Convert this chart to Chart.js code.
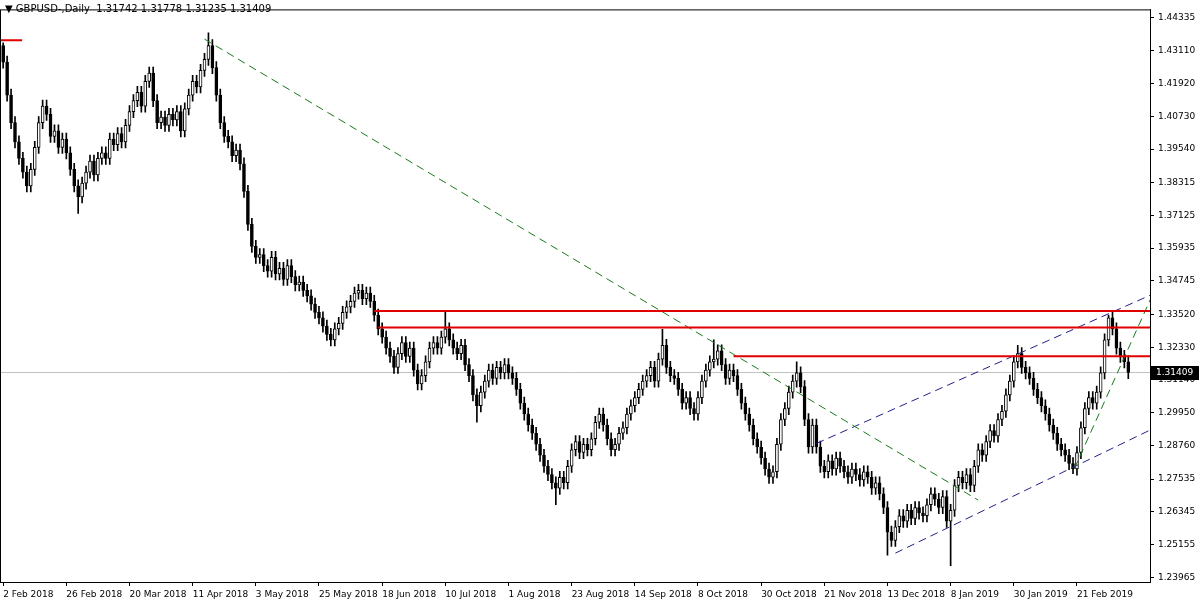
<!DOCTYPE html>
<html>
<head>
<meta charset="utf-8">
<script src="https://cdn.jsdelivr.net/npm/chart.js@4.4.0/dist/chart.umd.min.js"></script>
<style>
  html, body { margin: 0; padding: 0; background: #fff; }
  #wrap { width: 1200px; height: 600px; position: relative; }
  #title { position: absolute; left: 5px; top: 3px; font: 10px "DejaVu Sans", sans-serif; color: #000; }
</style>
</head>
<body>
<div id="wrap">
  <canvas id="c" width="1200" height="600"></canvas>
  <div id="title">▼ GBPUSD-,Daily&nbsp; 1.31742 1.31778 1.31235 1.31409</div>
</div>
<script>
// daily closes, 2 Feb 2018 onwards
const closes = [
  1.4270,1.4150,1.4050,1.3980,1.3920,1.3870,1.3820,1.3880,1.3960,1.4050,
  1.4110,1.4080,1.4000,1.4020,1.3960,1.3990,1.3940,1.3880,1.3820,1.3780,
  1.3830,1.3870,1.3910,1.3860,1.3920,1.3940,1.3920,1.3990,1.3970,1.4010,
  1.3980,1.4040,1.4090,1.4130,1.4160,1.4110,1.4200,1.4230,1.4130,1.4050,
  1.4070,1.4040,1.4080,1.4060,1.4090,1.4020,1.4100,1.4150,1.4200,1.4180,
  1.4240,1.4280,1.4330,1.4250,1.4150,1.4050,1.4000,1.3980,1.3930,1.3950,
  1.3900,1.3800,1.3680,1.3600,1.3560,1.3570,1.3530,1.3510,1.3560,1.3500,
  1.3520,1.3480,1.3530,1.3490,1.3460,1.3470,1.3440,1.3420,1.3390,1.3360,
  1.3340,1.3310,1.3280,1.3260,1.3300,1.3320,1.3360,1.3380,1.3400,1.3430,
  1.3440,1.3410,1.3430,1.3400,1.3350,1.3300,1.3270,1.3230,1.3200,1.3160,
  1.3210,1.3250,1.3200,1.3230,1.3150,1.3100,1.3130,1.3180,1.3230,1.3250,
  1.3230,1.3270,1.3300,1.3260,1.3230,1.3210,1.3240,1.3170,1.3130,1.3060,
  1.3020,1.3070,1.3110,1.3150,1.3120,1.3160,1.3140,1.3170,1.3140,1.3120,
  1.3080,1.3030,1.2990,1.2950,1.2920,1.2880,1.2840,1.2800,1.2770,1.2740,
  1.2720,1.2760,1.2740,1.2800,1.2860,1.2890,1.2850,1.2880,1.2860,1.2900,
  1.2960,1.2990,1.2950,1.2900,1.2860,1.2880,1.2920,1.2940,1.2990,1.3020,
  1.3050,1.3080,1.3110,1.3130,1.3160,1.3110,1.3190,1.3240,1.3160,1.3130,
  1.3120,1.3080,1.3030,1.3050,1.3010,1.2990,1.3050,1.3110,1.3150,1.3180,
  1.3190,1.3220,1.3170,1.3120,1.3150,1.3130,1.3080,1.3030,1.2990,1.2950,
  1.2900,1.2870,1.2830,1.2790,1.2760,1.2780,1.2880,1.2970,1.3010,1.3070,
  1.3110,1.3140,1.3090,1.2970,1.2870,1.2950,1.2870,1.2800,1.2780,1.2820,
  1.2790,1.2830,1.2800,1.2780,1.2760,1.2790,1.2770,1.2750,1.2780,1.2760,
  1.2720,1.2740,1.2700,1.2650,1.2560,1.2530,1.2580,1.2620,1.2600,1.2640,
  1.2610,1.2650,1.2630,1.2620,1.2660,1.2700,1.2680,1.2650,1.2690,1.2600,
  1.2640,1.2730,1.2760,1.2740,1.2770,1.2730,1.2800,1.2860,1.2840,1.2890,
  1.2930,1.2910,1.2970,1.3000,1.3060,1.3110,1.3180,1.3210,1.3160,1.3140,
  1.3120,1.3080,1.3050,1.3020,1.2990,1.2950,1.2920,1.2880,1.2860,1.2840,
  1.2810,1.2790,1.2850,1.2940,1.3010,1.3050,1.3030,1.3070,1.3140,1.3260,
  1.3340,1.3300,1.3230,1.3200,1.3180,1.3141
];
const firstOpen = 1.4330;
// typical wick length and the outstanding spikes (index -> price)
const wick = 0.0022;
const spikeHighs = { 0: 1.4340, 52: 1.4377, 112: 1.3363, 167: 1.3298, 180: 1.3260, 201: 1.3180, 280: 1.3350, 257: 1.3240 };
const spikeLows = { 19: 1.3720, 140: 1.2660, 224: 1.2477, 240: 1.2438, 271: 1.2773, 120: 1.2960 };

const dateLabels = ['2 Feb 2018','26 Feb 2018','20 Mar 2018','11 Apr 2018','3 May 2018','25 May 2018',
  '18 Jun 2018','10 Jul 2018','1 Aug 2018','23 Aug 2018','14 Sep 2018','8 Oct 2018','30 Oct 2018',
  '21 Nov 2018','13 Dec 2018','8 Jan 2019','30 Jan 2019','21 Feb 2019'];
const priceTicks = [1.23965,1.25155,1.26345,1.27535,1.28760,1.29950,1.31140,1.32330,1.33520,
  1.34745,1.35935,1.37125,1.38315,1.39540,1.40730,1.41920,1.43110,1.44335];
const lastPrice = 1.31409;

// trend lines [x1, y1, x2, y2]
const redLines = [[94, 1.3365, 291, 1.3365], [95, 1.3305, 291, 1.3305], [185, 1.3200, 291, 1.3200], [-1, 1.4350, 4.8, 1.4350]];
const greenLines = [[51, 1.4354, 247, 1.2677], [271.4, 1.2793, 291, 1.3420]];
const blueLines = [[206, 1.2883, 291, 1.3425], [226, 1.2484, 291, 1.2935]];

const wicks = [], bodies = [], bodyFill = [];
closes.forEach((c, i) => {
  const o = i === 0 ? firstOpen : closes[i - 1];
  const hi = spikeHighs[i] !== undefined ? spikeHighs[i] : Math.max(o, c) + wick;
  const lo = spikeLows[i] !== undefined ? spikeLows[i] : Math.min(o, c) - wick;
  wicks.push({ x: i, y: [lo, hi] });
  const b = Math.abs(c - o) < 0.0003 ? [o - 0.00015, o + 0.00015] : [o, c];
  bodies.push({ x: i, y: b });
  bodyFill.push(c >= o ? '#ffffff' : '#000000');
});

const lineSet = (segs, color, dash) => segs.map(s => ({
  type: 'line', data: [{ x: s[0], y: s[1] }, { x: s[2], y: s[3] }],
  borderColor: color, borderWidth: dash ? 1 : 2, borderDash: dash || [],
  pointRadius: 0, order: 0
}));

const frame = {
  id: 'frame',
  afterDraw(chart) {
    const { ctx, chartArea: a, scales } = chart;
    ctx.save();
    ctx.strokeStyle = '#000'; ctx.lineWidth = 1;
    ctx.strokeRect(a.left + 0.5, a.top + 0.5, a.right - a.left, a.bottom - a.top);
    const y = Math.round(scales.y.getPixelForValue(lastPrice));
    ctx.fillStyle = '#000';
    ctx.fillRect(a.right + 1, y - 7, 48, 14);
    ctx.fillStyle = '#fff'; ctx.font = '9px "DejaVu Sans"'; ctx.textBaseline = 'middle';
    ctx.fillText(lastPrice.toFixed(5), a.right + 6, y);
    ctx.restore();
  }
};

new Chart(document.getElementById('c'), {
  type: 'bar',
  data: {
    datasets: [
      { type: 'line', data: [{ x: -1, y: lastPrice }, { x: 291, y: lastPrice }], borderColor: '#c0c0c0', borderWidth: 1, pointRadius: 0, order: 3 },
      ...lineSet(redLines, '#e00000'),
      ...lineSet(greenLines, '#1a7a1a', [8, 5]),
      ...lineSet(blueLines, '#20208a', [8, 5]),
      { data: wicks, backgroundColor: '#000', barThickness: 1, grouped: false, order: 2 },
      { data: bodies, backgroundColor: bodyFill, borderColor: '#000', borderWidth: 1, borderSkipped: false, barThickness: 3, grouped: false, order: 1 }
    ]
  },
  options: {
    responsive: false, animation: false,
    layout: { padding: { left: 0, top: 0, right: 0, bottom: 0 } },
    plugins: { legend: { display: false }, tooltip: { enabled: false } },
    scales: {
      x: {
        type: 'linear', min: -0.8, max: 290.5, offset: false,
        afterBuildTicks: ax => { ax.ticks = dateLabels.map((_, k) => ({ value: k * 16 })); },
        afterFit: ax => { ax.height = 18; },
        ticks: { autoSkip: false, callback: (v) => dateLabels[v / 16] || '', font: { family: 'DejaVu Sans', size: 9 }, color: '#000', maxRotation: 0, align: 'start', padding: 3 },
        grid: { display: true, drawOnChartArea: false, offset: false, color: '#000', tickLength: 4 },
        border: { color: '#000' }
      },
      y: {
        position: 'right', min: 1.2379, max: 1.4462,
        afterBuildTicks: ax => { ax.ticks = priceTicks.map(v => ({ value: v })); },
        afterFit: ax => { ax.width = 50; },
        ticks: { callback: v => v.toFixed(5), font: { family: 'DejaVu Sans', size: 9 }, color: '#000', padding: 4 },
        grid: { display: true, drawOnChartArea: false, color: '#000', tickLength: 4 },
        border: { color: '#000' }
      }
    }
  },
  plugins: [frame]
});
</script>
</body>
</html>
